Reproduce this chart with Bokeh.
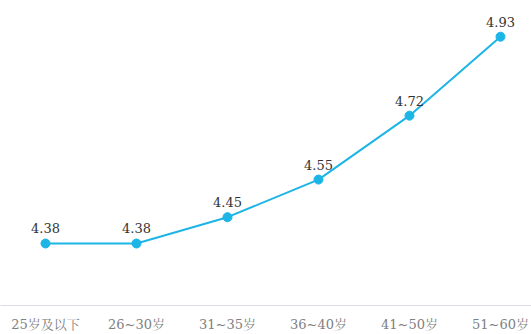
from bokeh.plotting import figure
from bokeh.models import ColumnDataSource, Range1d, FixedTicker
from bokeh.core.properties import value
from bokeh.embed import file_html
from bokeh.resources import INLINE

categories = ["25岁及以下", "26~30岁", "31~35岁", "36~40岁", "41~50岁", "51~60岁"]
scores = [4.38, 4.38, 4.45, 4.55, 4.72, 4.93]
labels = ["4.38", "4.38", "4.45", "4.55", "4.72", "4.93"]

xs = list(range(len(categories)))
src = ColumnDataSource(dict(x=xs, y=scores, t=labels))

p = figure(width=531, height=334, output_backend="svg", toolbar_location=None,
           x_range=Range1d(-0.4945, 5.341), y_range=Range1d(4.2151, 5.0263),
           min_border_left=0, min_border_right=0, min_border_top=0, min_border_bottom=0)
p.outline_line_color = None
p.xgrid.visible = False
p.ygrid.visible = False
p.yaxis.visible = False

p.line("x", "y", source=src, line_color="#1db5e6", line_width=2)
p.scatter("x", "y", source=src, size=9, fill_color="#1db5e6", line_color="#1db5e6")
p.text("x", "y", text="t", source=src, text_align="center", text_baseline="bottom",
       y_offset=-10, text_font_size="13px", text_color="#333333",
       text_font=value("DejaVu Serif"))

ax = p.xaxis[0]
ax.ticker = FixedTicker(ticks=xs)
ax.major_label_overrides = {i: c for i, c in zip(xs, categories)}
ax.major_tick_line_color = None
ax.minor_tick_line_color = None
ax.axis_line_color = "#dcdce6"
ax.major_label_text_font = "DejaVu Serif, Noto Serif CJK SC, Noto Sans CJK SC"
ax.major_label_text_font_size = "13px"
ax.major_label_text_color = "#808080"
ax.major_label_standoff = 5

open("out.html", "w").write(file_html(p, INLINE))
